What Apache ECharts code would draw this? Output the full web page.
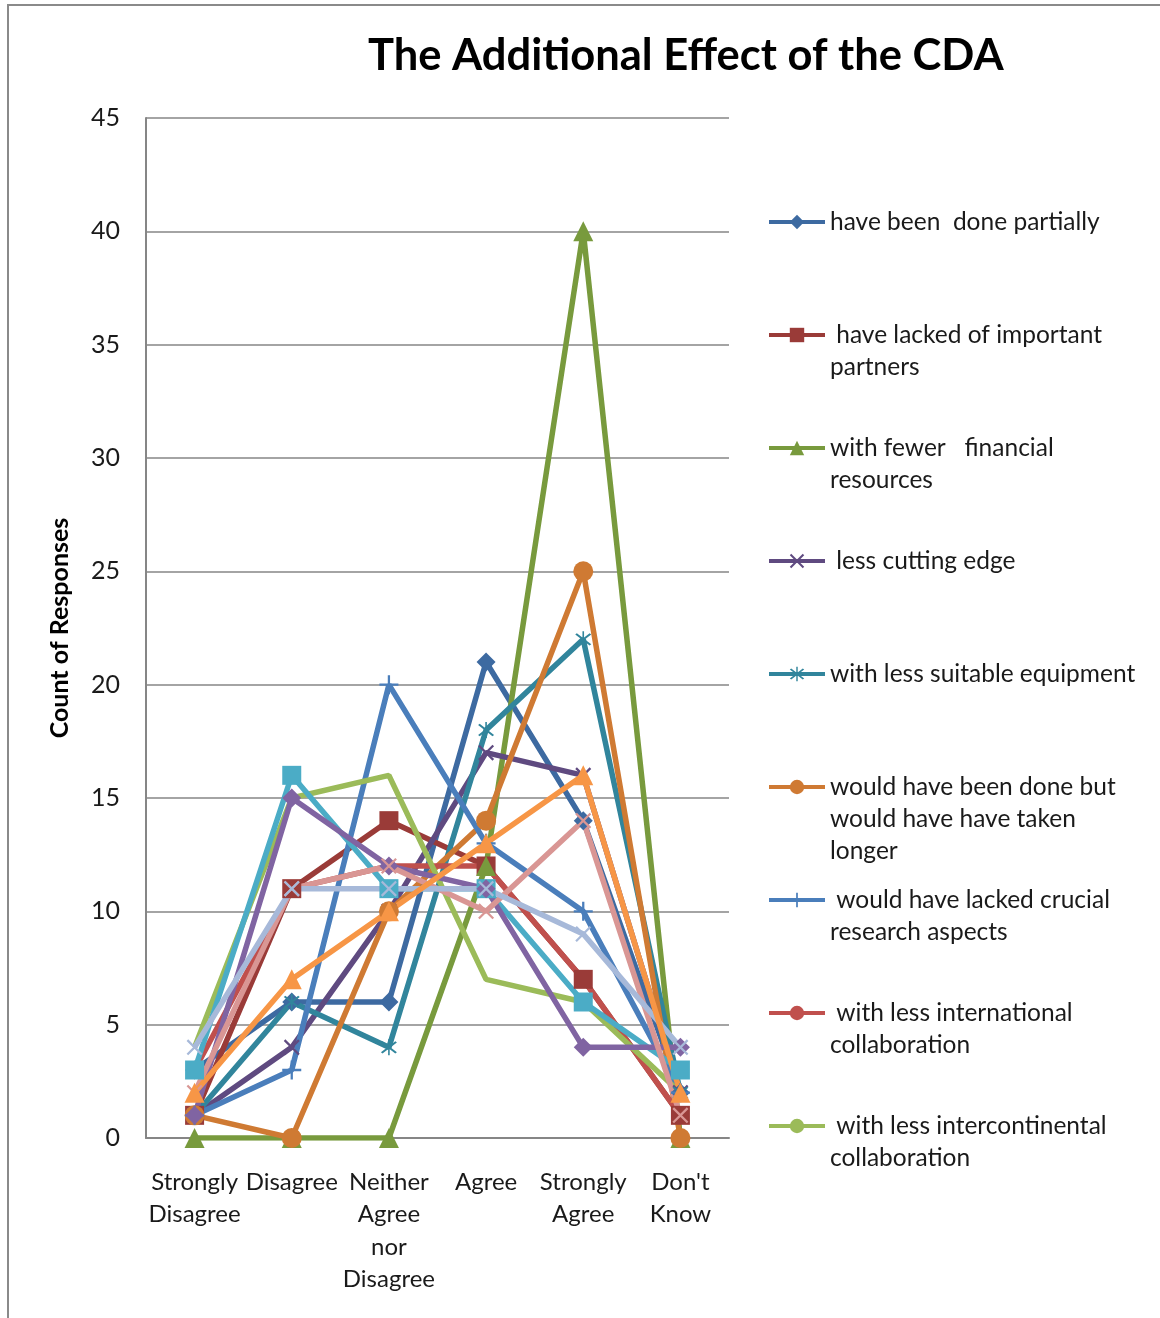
<!DOCTYPE html>
<html>
<head>
<meta charset="utf-8">
<title>The Additional Effect of the CDA</title>
<script src="https://cdn.jsdelivr.net/npm/echarts@6/dist/echarts.min.js"></script>
<style>
  html, body { margin: 0; padding: 0; background: #ffffff; }
  #chart { width: 1160px; height: 1318px; }
</style>
</head>
<body>
<div id="chart"></div>
<script>
// Answer categories along the x axis
const categories = ['Strongly\nDisagree', 'Disagree', 'Neither\nAgree\nnor\nDisagree', 'Agree', 'Strongly\nAgree', "Don't\nKnow"];

// Counts of responses per statement
const donePartially        = [3, 6, 6, 21, 14, 2];
const lackedPartners       = [1, 11, 14, 12, 7, 1];
const fewerFinancial       = [0, 0, 0, 12, 40, 0];
const lessCuttingEdge      = [1, 4, 10, 17, 16, 2];
const lessEquipment        = [1, 6, 4, 18, 22, 2];
const takenLonger          = [1, 0, 10, 14, 25, 0];
const lackedResearch       = [1, 3, 20, 13, 10, 2];
const lessInternational    = [3, 11, 12, 12, 7, 1];
const lessIntercontinental = [4, 15, 16, 7, 6, 2];
const extraSquare          = [3, 16, 11, 11, 6, 3];
const extraDiamond         = [1, 15, 12, 11, 4, 4];
const extraCross           = [2, 11, 12, 10, 14, 1];
const extraLightCross      = [4, 11, 11, 11, 9, 4];
const extraTriangle        = [2, 7, 10, 13, 16, 2];

const yTicks = { min: 0, max: 45, interval: 5 };

// Marker shapes not built into ECharts, drawn as thin filled strokes
const xMark = 'path://M0,1L1,0L10,9L9,10Z M9,0L10,1L1,10L0,9Z';
const starMark = 'path://M0,1L1,0L10,9L9,10Z M9,0L10,1L1,10L0,9Z M4.5,-1.5L5.5,-1.5L5.5,11.5L4.5,11.5Z';
const plusMark = 'path://M4.4,0L5.6,0L5.6,10L4.4,10Z M0,4.4L10,4.4L10,5.6L0,5.6Z';

const FONT = 'Lato, "Open Sans", sans-serif';

// name, values, colour, symbol, symbol size, legend line count (0 = not in legend)
const seriesDefs = [
  ['have been  done partially', donePartially, '#3D6AA1', 'diamond', 19, 1],
  [' have lacked of important\npartners', lackedPartners, '#9A3B38', 'rect', 19, 2],
  ['with fewer   financial\nresources', fewerFinancial, '#789A3D', 'triangle', 20, 2],
  [' less cutting edge', lessCuttingEdge, '#5F4A80', xMark, 16, 1],
  ['with less suitable equipment', lessEquipment, '#31859C', starMark, 16, 1],
  ['would have been done but\nwould have have taken\nlonger', takenLonger, '#CF7A33', 'circle', 20, 3],
  [' would have lacked crucial\nresearch aspects', lackedResearch, '#4A7EBB', plusMark, 19, 2],
  [' with less international\ncollaboration', lessInternational, '#C0504D', 'none', 0, 2],
  [' with less intercontinental\ncollaboration', lessIntercontinental, '#9BBB59', 'none', 0, 2],
  ['series 10', extraSquare, '#4BACC6', 'rect', 19, 0],
  ['series 11', extraDiamond, '#8064A2', 'diamond', 19, 0],
  ['series 12', extraCross, '#D99694', xMark, 16, 0],
  ['series 13', extraLightCross, '#A7B9D9', xMark, 16, 0],
  ['series 14', extraTriangle, '#F79646', 'triangle', 20, 0]
];

const series = seriesDefs.map(([name, data, color, symbol, size]) => ({
  name: name,
  type: 'line',
  data: data,
  symbol: symbol,
  symbolSize: size,
  showSymbol: symbol !== 'none',
  lineStyle: { color: color, width: 5.5 },
  itemStyle: { color: color },
  emphasis: { disabled: true },
  animation: false
}));

// One legend block per statement so every entry sits on its own row.
// Blank lines are put ahead of wrapped names so the swatch lines up
// with the first line of text.
const LINE_H = 32;
const legends = [];
let row = 0;
seriesDefs.forEach(([name, , , , , lines]) => {
  if (!lines) return;
  const firstLineCenter = 222 + row * 113;
  legends.push({
    data: [name],
    orient: 'vertical',
    left: 767,
    top: firstLineCenter - (2 * lines - 1) * LINE_H / 2,
    itemWidth: 56,
    itemHeight: 18,
    itemGap: 0,
    padding: 0,
    selectedMode: false,
    formatter: (n) => '\n'.repeat(lines - 1) + n,
    lineStyle: { width: 4 },
    textStyle: {
      fontFamily: FONT,
      fontSize: 24.5,
      color: '#1a1a1a',
      lineHeight: LINE_H
    }
  });
  row++;
});

const chart = echarts.init(document.getElementById('chart'), null, { renderer: 'canvas' });
chart.setOption({
  backgroundColor: '#ffffff',
  animation: false,
  title: {
    text: 'The Additional Effect of the CDA',
    left: 363,
    top: 29,
    textStyle: { fontFamily: FONT, fontSize: 43.5, fontWeight: 'bold', color: '#000000' }
  },
  legend: legends,
  grid: { left: 146, right: 431, top: 118, bottom: 180, containLabel: false },
  xAxis: {
    type: 'category',
    data: categories,
    boundaryGap: true,
    axisLine: { lineStyle: { color: '#868686', width: 2 } },
    axisTick: { show: false },
    axisLabel: {
      fontFamily: FONT, fontSize: 24, color: '#1a1a1a',
      lineHeight: 32.5, margin: 28, interval: 0
    },
    splitLine: { show: false }
  },
  yAxis: {
    type: 'value',
    min: yTicks.min,
    max: yTicks.max,
    interval: yTicks.interval,
    name: 'Count of Responses',
    nameLocation: 'middle',
    nameGap: 74,
    nameTextStyle: { fontFamily: FONT, fontSize: 25, fontWeight: 'bold', color: '#000000' },
    axisLine: { show: true, lineStyle: { color: '#868686', width: 2 } },
    axisTick: { show: false },
    axisLabel: { fontFamily: FONT, fontSize: 25, color: '#1a1a1a', margin: 26 },
    splitLine: { lineStyle: { color: '#868686', width: 1.5 } }
  },
  graphic: [{
    type: 'rect',
    shape: { x: 8, y: 5, width: 1300, height: 1400 },
    style: { fill: 'none', stroke: '#8a8a8a', lineWidth: 2 },
    silent: true,
    z: 100
  }],
  series: series
});
</script>
</body>
</html>
